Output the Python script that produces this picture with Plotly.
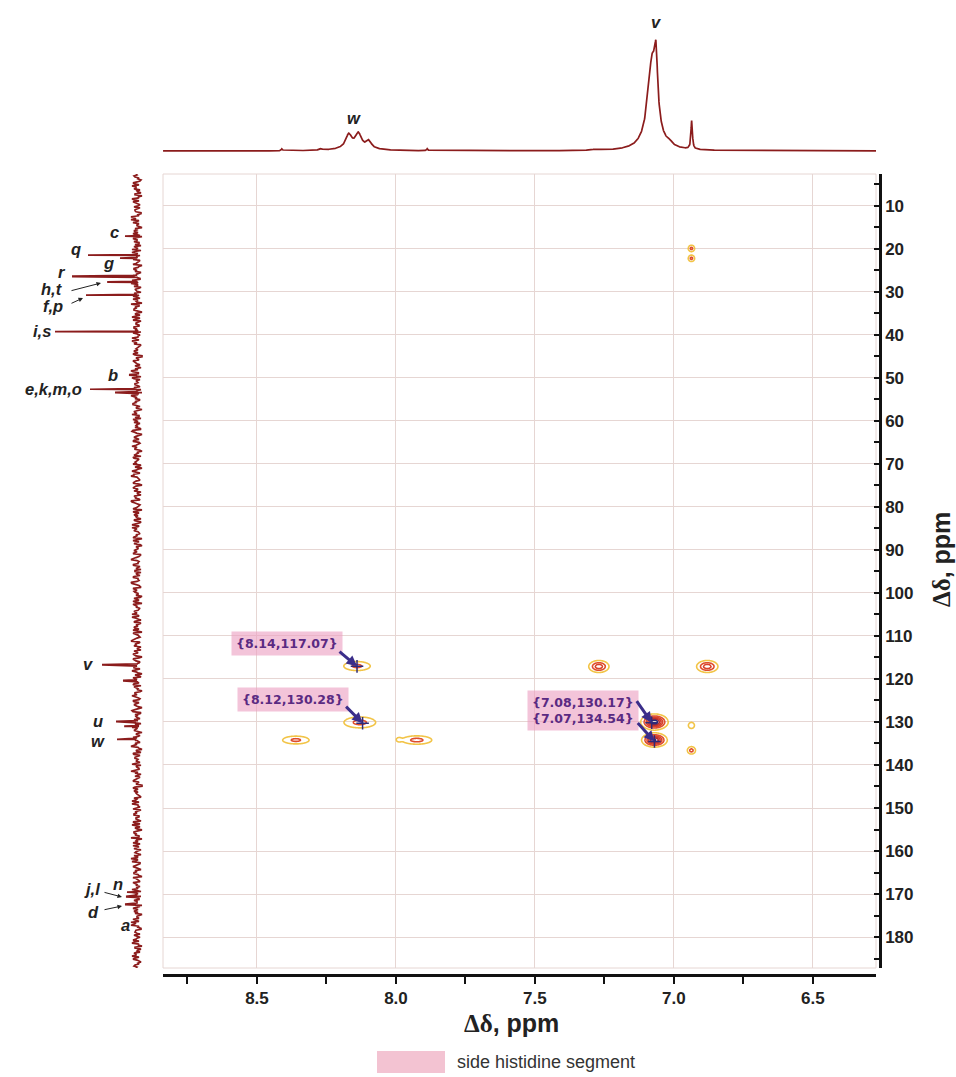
import numpy as np
import plotly.graph_objects as go

W, H = 956, 1077

# ---------------- data ----------------
# 2D cross peaks: 1H shift, 13C shift, relative intensity, line widths (ppm), cluster id
cp_x = [8.14, 8.13, 8.36, 7.925, 7.99, 7.27, 6.88, 7.07, 7.07, 6.937, 6.937, 6.937, 6.937]
cp_y = [117.0, 130.1, 134.2, 134.2, 134.1, 117.1, 117.1, 130.0, 134.2, 130.8, 136.6, 19.9, 22.2]
cp_amp = [0.28, 0.30, 0.28, 0.30, 0.12, 0.50, 0.50, 1.00, 0.90, 0.12, 0.30, 0.28, 0.28]
cp_sx = [0.030, 0.035, 0.030, 0.033, 0.007, 0.019, 0.020, 0.022, 0.021, 0.012, 0.009, 0.0073, 0.0073]
cp_sy = [0.66, 0.78, 0.57, 0.60, 0.40, 0.73, 0.73, 0.83, 0.75, 0.78, 0.53, 0.47, 0.47]
cp_group = [0, 1, 2, 3, 3, 4, 5, 6, 6, 7, 7, 8, 8]

# labelled cross peaks (side histidine segment)
ann_x = [8.14, 8.12, 7.08, 7.07]
ann_y = [117.07, 130.28, 130.17, 134.54]

# 1H projection (top): shift, height, FWHM
h_ppm = [7.078, 7.064, 7.015, 6.936, 8.170, 8.135, 8.097, 8.140, 8.410, 8.270, 7.887, 7.280]
h_int = [90, 49, 3, 28.7, 13, 13, 7, 4, 2, 1.5, 2, 1.2]
h_fwhm = [0.040, 0.012, 0.020, 0.006, 0.025, 0.025, 0.020, 0.120, 0.005, 0.010, 0.005, 0.030]
h_labels = ["w", "v"]
h_label_ppm = [8.15, 7.065]

# 13C projection (left): shift, height
c_ppm = [17.0, 21.4, 22.1, 26.4, 27.7, 30.7, 39.2, 49.3, 52.6, 53.4, 116.7, 120.4,
         129.9, 131.0, 134.0, 169.5, 170.6, 172.4]
c_int = [12, 49, 17, 65, 29, 51, 82, 8, 47, 22, 35, 14, 21, 12, 20, 10, 11, 12]
c_noise = [
    1, 3, -2, -4, 0, 2, 5, 1, -3, -1, 2, -5, -2, 3, 4, 0, -1, -3, 2, 1, -4, -2, 3, 6, 1, -2, 0, -5, -1, 2, 4, -3, 1, 0, 3, -2, -4, 1, 5, 2,
    -1, -3, 0, 4, -2, 1, -5, -1, 3, 2, -2, 4, 0, -3, 1, 6, -1, -4, 2, 0, 3, -2, -1, 4, 1, -5, -2, 2, 3, -1, 0, -3, 5, 2, -4, 1, -2, 3, 0, -1,
    4, -3, -1, 2, 5, 0, -4, -2, 1, 3, -1, 2, -5, 0, 4, 1, -3, -1, 2, 6, -2, 0, -4, 3, 1, -1, 2, -3, 4, 0, -5, -1, 3, 2, -2, 1, 4, -3, 0, -1,
    2, 5, -2, -4, 1, 3, 0, -1, -3, 4, 2, -5, 1, 0, 3, -2, -1, 5, 2, -3, 0, 1, -4, 3, -1, 2, 4, -2, -5, 1, 0, 3, 6, -1, -3, 2, -2, 1, 4, 0,
    -4, -1, 3, 2, -3, 5, 0, -2, 1, -5, 4, 2, -1, 0, 3, -4, 1, -2, 5, 2, -1, -3, 0, 4, 1, -2, 3, -5, -1, 2, 0, 4, -3, 1, 6, -2, -1, 3, 0, -4,
    2, 1, -3, 4, -1, 0, 5, -2, -4, 2, 3, -1, 1, -3, 0, 4, -5, 2, 1, -2, 3, 0, -1, 5, -3, 2, -4, 1, 3, -2, 0, 4, -1, -3, 2, 6, -2, 1, -4, 0,
    3, -1, 2, -5, 4, 1, -2, 0, 3, -3, 5, -1, 2, -4, 1, 0, -2, 4, 3, -1, -5, 2, 0, 1, -3, 4, -2, 3, -1, 0, 5, -4, 2, 1, -3, -1, 4, 2, -2, 0,
    3, -5, 1, -1, 4, 2, -3, 0, 6, -2, 1, -4, 3, -1, 2, 0, -3, 5, 1, -2, 4, -1, -4, 2, 0, 3, -2, 1, -5, 4, 2, -1, 0, -3, 3, 1, -2, 5, -1, 0,
    -4, 2, 3, -2, 1, -1, 4, -3, 0, 2, -5, 3, 1, -2, 6, 0, -1, -3, 4, 2, -4, 1, -2, 3, 0, -1, 5, -3, 2, 1, -4, 0, 3, -2, 4, -1, -3, 2, 1, 0,
    5, -4, -1, 3, 2, -2, 0, 4, -5, 1, -1, 3, 2, -3, 0, 4, -2, 1, 6, -1, -4, 2, 0, 3, -3, 1, -2, 5, -1, 2, -4, 0, 3, 1, -2, 4, -3, -1, 2, 0]

# left-projection labels: text, pixel position; arrows: tail, head (pixels)
lab_text = ["c", "q", "g", "r", "h,t", "f,p", "i,s", "b", "e,k,m,o", "v", "u", "w", "j,l", "n", "d", "a"]
lab_px = [(114, 232), (76, 249), (108, 263), (62, 272), (52, 289), (53, 306), (42, 331), (113, 375),
          (53, 389), (88, 664), (98, 721), (98, 741), (92, 889), (118, 884), (93, 912), (125, 925)]
lab_arrow = {"h,t": ((70, 291), (101, 283)), "f,p": ((70, 304), (83, 298)),
             "j,l": ((103, 892), (122, 897)), "d": ((103, 910), (122, 906))}

X_RANGE = [8.838, 6.273]
Y_RANGE = [187.2, 2.6]


def px(v):
    return v / W


def py(v):
    return 1 - v / H


SPEC = "#8b1c1c"
GRID = "#e6d6d3"
fig = go.Figure()

# ---------------- 2D contours ----------------
colorscale = [[0, "#f2c447"], [0.1, "#f2c447"], [0.12, "#e2512c"], [0.6, "#d03a2a"],
              [0.9, "#a8222b"], [0.95, "#2e2a78"], [1, "#2e2a78"]]
for g in sorted(set(cp_group)):
    idx = [i for i, gg in enumerate(cp_group) if gg == g]
    x0 = min(cp_x[i] - 4 * cp_sx[i] for i in idx)
    x1 = max(cp_x[i] + 4 * cp_sx[i] for i in idx)
    y0 = min(cp_y[i] - 4 * cp_sy[i] for i in idx)
    y1 = max(cp_y[i] + 4 * cp_sy[i] for i in idx)
    gx = np.linspace(x0, x1, 100)
    gy = np.linspace(y0, y1, 100)
    XX, YY = np.meshgrid(gx, gy)
    Z = np.zeros_like(XX)
    for i in idx:
        Z += cp_amp[i] * np.exp(-0.5 * (((XX - cp_x[i]) / cp_sx[i]) ** 2 + ((YY - cp_y[i]) / cp_sy[i]) ** 2))
    fig.add_trace(go.Contour(x=gx, y=gy, z=Z, xaxis="x", yaxis="y",
                             contours=dict(start=0.08, end=0.95, size=0.16, coloring="lines"),
                             colorscale=colorscale, zmin=0.08, zmax=0.88, zauto=False,
                             showscale=False, line=dict(width=1.6, smoothing=1),
                             hoverinfo="skip", showlegend=False))

# crosshair marks on labelled peaks
fig.add_trace(go.Scatter(x=ann_x, y=ann_y, mode="markers", xaxis="x", yaxis="y",
                         marker=dict(symbol="cross-thin", size=9, line=dict(width=1.5, color="#2e2a78")),
                         hoverinfo="skip", showlegend=False))

# ---------------- top 1H projection ----------------
hx = np.arange(X_RANGE[1], X_RANGE[0], 0.0008)
hy = np.zeros_like(hx)
for c, h, w in zip(h_ppm, h_int, h_fwhm):
    hy += h / (1 + ((hx - c) / (w / 2)) ** 2)
fig.add_trace(go.Scatter(x=hx, y=hy, mode="lines", xaxis="x3", yaxis="y3",
                         line=dict(color=SPEC, width=1.7), hoverinfo="skip", showlegend=False))

# ---------------- left 13C projection ----------------
noise_vals = [v for pair in zip(c_noise, c_noise[::-1]) for v in pair]
pts = list(zip(np.linspace(Y_RANGE[1], Y_RANGE[0], len(noise_vals)), noise_vals))
for c, h in zip(c_ppm, c_int):
    pts += [(c - 0.3, 0), (c - 0.05, h), (c + 0.05, h), (c + 0.3, 0)]
pts.sort(key=lambda p: p[0])
fig.add_trace(go.Scatter(x=[p[1] for p in pts], y=[p[0] for p in pts], mode="lines",
                         xaxis="x4", yaxis="y4", line=dict(color=SPEC, width=1.7),
                         hoverinfo="skip", showlegend=False))

# ---------------- annotations ----------------
ann = []
LBL = dict(family="Liberation Sans", size=16.5, color="#222")
for t, (lx, ly) in zip(lab_text, lab_px):
    ann.append(dict(xref="paper", yref="paper", x=px(lx), y=py(ly), text=f"<b><i>{t}</i></b>",
                    xanchor="center", yanchor="middle", showarrow=False, font=LBL))
    if t in lab_arrow:
        (tx, ty), (hx_, hy_) = lab_arrow[t]
        ann.append(dict(xref="paper", yref="paper", x=px(hx_), y=py(hy_), text="",
                        showarrow=True, ax=tx - hx_, ay=ty - hy_, arrowhead=2, arrowsize=0.9,
                        arrowwidth=1, arrowcolor="#222", standoff=0, startstandoff=0))

for t, p in zip(h_labels, h_label_ppm):
    yy = 118 if t == "w" else 22
    ann.append(dict(xref="x", yref="paper", x=p, y=py(yy), text=f"<b><i>{t}</i></b>",
                    xanchor="center", yanchor="middle", showarrow=False, font=LBL))

BOX = dict(family="DejaVu Sans", size=12.5, color="#5a2a82")
BOXBG = "rgba(236,160,194,0.62)"
box_txt = [f"{{{x:.2f},{y:.2f}}}" for x, y in zip(ann_x, ann_y)]
box_common = dict(xref="paper", yref="paper", showarrow=False, font=BOX, bgcolor=BOXBG,
                  borderpad=4, xanchor="center", yanchor="middle")
ann.append(dict(x=px(287), y=py(643), text=f"<b>{box_txt[0]}</b>", **box_common))
ann.append(dict(x=px(293), y=py(699), text=f"<b>{box_txt[1]}</b>", **box_common))
ann.append(dict(x=px(583), y=py(710), text=f"<b>{box_txt[2]}</b><br><b>{box_txt[3]}</b>",
                align="center", **box_common))
offsets = [(-19, -16), (-18, -18), (-16, -23), (-18, -20)]
for (x, y), (ox, oy) in zip(zip(ann_x, ann_y), offsets):
    ann.append(dict(xref="x", yref="y", x=x, y=y, text="", showarrow=True, ax=ox, ay=oy,
                    arrowhead=2, arrowsize=0.7, arrowwidth=3, arrowcolor="#3b2e8a", standoff=0))

TITLE = dict(family="Liberation Sans", size=25, color="#222")
TTXT = '<b><span style="font-family:Liberation Serif">Δδ</span>, ppm</b>'
ann.append(dict(xref="paper", yref="paper", x=px(512), y=py(1023), text=TTXT,
                xanchor="center", yanchor="middle", showarrow=False, font=TITLE))
ann.append(dict(xref="paper", yref="paper", x=px(941), y=py(560), text=TTXT,
                xanchor="center", yanchor="middle", showarrow=False, font=TITLE, textangle=-90))
ann.append(dict(xref="paper", yref="paper", x=px(455), y=py(1062), xanchor="left", yanchor="middle",
                text="side histidine segment", showarrow=False,
                font=dict(family="Liberation Sans", size=18, color="#333")))

shapes = [
    dict(type="rect", xref="paper", yref="paper", x0=px(163), x1=px(876), y0=py(968), y1=py(174),
         line=dict(color=GRID, width=1), layer="below"),
    dict(type="rect", xref="paper", yref="paper", x0=px(377), x1=px(445), y0=py(1073), y1=py(1051),
         fillcolor="#f3c3d2", line=dict(width=0)),
]

TICKF = dict(family="Liberation Sans", size=17, color="#222", weight="bold")
fig.update_layout(
    width=W, height=H, margin=dict(l=0, r=0, t=0, b=0),
    paper_bgcolor="white", plot_bgcolor="rgba(0,0,0,0)", showlegend=False,
    xaxis=dict(domain=[px(163), px(876)], range=X_RANGE, anchor="free", position=py(975),
               showline=True, linecolor="#111", linewidth=2.5, ticks="outside", ticklen=7,
               tickwidth=2, tickcolor="#111", tick0=6.5, dtick=0.5, tickformat=".1f",
               minor=dict(dtick=0.25, ticks="outside", ticklen=7, tickwidth=2, tickcolor="#111",
                          showgrid=False),
               showgrid=True, gridcolor=GRID, gridwidth=1, zeroline=False, tickfont=TICKF),
    yaxis=dict(domain=[py(968), py(174)], range=Y_RANGE, side="right", anchor="free",
               position=px(880), showline=True, linecolor="#111", linewidth=2.5, ticks="inside",
               ticklen=5, tickwidth=1.5, tickcolor="#111", tick0=0, dtick=10,
               minor=dict(dtick=5, ticks="inside", ticklen=5, tickwidth=1.5, tickcolor="#111",
                          showgrid=False),
               showgrid=True, gridcolor=GRID, gridwidth=1, zeroline=False, tickfont=TICKF),
    xaxis3=dict(domain=[px(163), px(876)], range=X_RANGE, anchor="y3", visible=False),
    yaxis3=dict(domain=[py(160), py(18)], range=[-9, 133], anchor="x3", visible=False),
    xaxis4=dict(domain=[px(40), px(150)], range=[97, -13], anchor="y4", visible=False),
    yaxis4=dict(domain=[py(968), py(174)], range=Y_RANGE, anchor="x4", visible=False),
    annotations=ann, shapes=shapes,
)

fig.write_html("out.html", config={"displayModeBar": False},
               post_script="document.body.style.margin='0';document.body.style.overflow='hidden';")
